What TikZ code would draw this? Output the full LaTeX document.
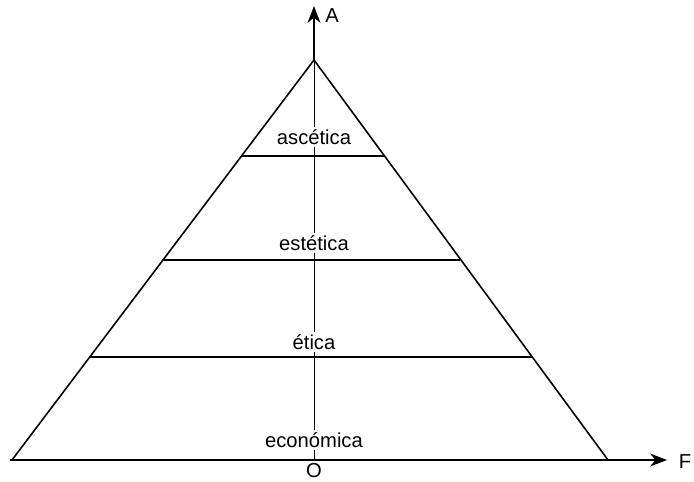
\documentclass[tikz,border=0pt]{standalone}
\usepackage{fontspec}
\setmainfont{Liberation Sans}
\usetikzlibrary{arrows.meta,positioning}

\begin{document}
\begin{tikzpicture}[
  x=0.02cm, y=-0.02cm,
  edge/.style={line width=0.9pt},
  axis/.style={line width=0.9pt, -{Stealth[length=0.34cm, width=0.26cm]}},
  midline/.style={line width=0.45pt},
  level/.style={fill=white, inner sep=1.5pt, font=\fontsize{11.5}{13}\selectfont},
  tag/.style={inner sep=0pt, font=\fontsize{11.5}{13}\selectfont}
]
\useasboundingbox (0,0) rectangle (694,481);

% corners of the pyramid
\coordinate (apex) at (314,60);
\coordinate (bl) at (12,460);
\coordinate (br) at (608,460);
\coordinate (o) at (314,460);
\coordinate (left end) at (10,460);
\coordinate (right end) at (667,460);
\coordinate (top end) at (314,6);

% level borders
\coordinate (l1) at (241,156);
\coordinate (r1) at (385,156);
\coordinate (l2) at (162,260);
\coordinate (r2) at (460,260);
\coordinate (l3) at (89,357);
\coordinate (r3) at (533,357);

% axes
\draw [midline] (o) -- (apex);
\draw [axis] (apex) -- (top end);
\draw [axis] (left end) -- (right end);

% pyramid
\draw [edge] (bl) -- (apex) -- (br);
\draw [edge] (l1) -- (r1);
\draw [edge] (l2) -- (r2);
\draw [edge] (l3) -- (r3);

% labels
\node (asc) [level] at (314,137) {ascética};
\node (est) [level] at (314,243) {estética};
\node (eti) [level] at (314,342) {ética};
\node (eco) [level] at (314,440) {económica};

\node (O) [tag] at (314,471) {O};
\node (A) [tag] at (332,16) {A};
\node (F) [tag] at (685,462) {F};

\end{tikzpicture}
\end{document}
